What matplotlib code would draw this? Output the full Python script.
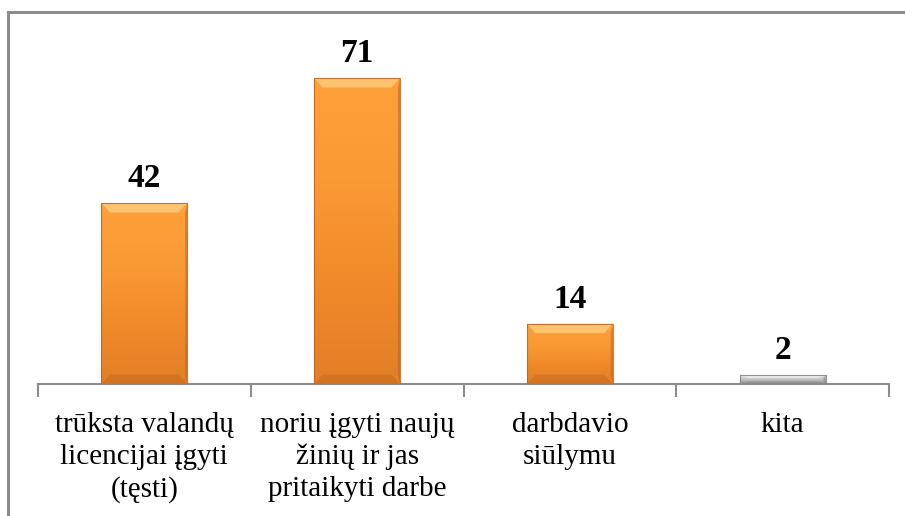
import matplotlib
matplotlib.use("Agg")
import matplotlib.pyplot as plt
import numpy as np
from matplotlib.colors import LinearSegmentedColormap
from matplotlib.patches import Polygon

categories = ["trūksta valandų\nlicencijai įgyti\n(tęsti)",
              "noriu įgyti naujų\nžinių ir jas\npritaikyti darbe",
              "darbdavio\nsiūlymu",
              "kita"]
values = [42, 71, 14, 2]
labels = ["42", "71", "14", "2"]

W, H = 905, 516
fig = plt.figure(figsize=(W / 100, H / 100), dpi=100)

# outer frame (top and left lines visible)
fig.add_artist(plt.Line2D([8 / W, 1.0], [1 - 12 / H, 1 - 12 / H], color="#8c8c8c", lw=2.2))
fig.add_artist(plt.Line2D([8 / W, 8 / W], [0, 1 - 12 / H], color="#8c8c8c", lw=2.2))

x0, x1 = 38, 889
ybase = 384
ymax = 80
pxu = 4.31
ytop = ybase - ymax * pxu
ax = fig.add_axes([x0 / W, 1 - ybase / H, (x1 - x0) / W, (ybase - ytop) / H])
ax.set_xlim(0, 4)
ax.set_ylim(0, ymax)
for s in ["top", "right", "left"]:
    ax.spines[s].set_visible(False)
ax.spines["bottom"].set_color("#8c8c8c")
ax.spines["bottom"].set_linewidth(1.5)
ax.set_yticks([])
ax.set_xticks([0, 1, 2, 3, 4])
ax.set_xticklabels([])
ax.tick_params(axis="x", length=9, width=1.5, color="#8c8c8c", direction="out")

xs = np.arange(len(values)) + 0.5
ax.set_xticks(xs, minor=True)
ax.set_xticklabels(categories, minor=True, fontsize=21, family="Liberation Serif",
                   linespacing=1.3, va="top")
ax.tick_params(axis="x", which="minor", length=0, pad=20)

face = ["#F7962E", "#F7962E", "#F7962E", "#BFBFBF"]
bars = ax.bar(xs, values, width=0.404, color=face, edgecolor="none", zorder=2)

orange = LinearSegmentedColormap.from_list("o", ["#E27E26", "#F08A2A", "#FA9A35", "#FFA03A"])
gray = LinearSegmentedColormap.from_list("g", ["#8F8F8F", "#B0B0B0", "#D0D0D0", "#E4E4E4"])
grad = np.linspace(0, 1, 256).reshape(-1, 1)
for b, v, c in zip(bars, values, face):
    bx, by = b.get_x(), b.get_y()
    bw, bh = b.get_width(), b.get_height()
    cm = gray if c == "#BFBFBF" else orange
    im = ax.imshow(grad, cmap=cm, aspect="auto", origin="lower",
                   extent=[bx, bx + bw, by, by + bh], zorder=3)
    im.set_clip_path(b)
    bev_y = min(2.2, bh * 0.3)
    bev_x = bw * 0.1
    light = "#FFD080" if c != "#BFBFBF" else "#F2F2F2"
    dark = "#B8601C" if c != "#BFBFBF" else "#7A7A7A"
    ax.add_patch(Polygon([[bx, by + bh], [bx + bw, by + bh], [bx + bw - bev_x, by + bh - bev_y],
                          [bx + bev_x, by + bh - bev_y]], closed=True, facecolor=light,
                         alpha=0.75, edgecolor="none", zorder=4))
    ax.add_patch(Polygon([[bx, by], [bx + bw, by], [bx + bw - bev_x, by + bev_y],
                          [bx + bev_x, by + bev_y]], closed=True, facecolor=dark,
                         alpha=0.35, edgecolor="none", zorder=4))
    ax.add_patch(Polygon([[bx + bw, by], [bx + bw, by + bh], [bx + bw - bev_x * 0.25, by + bh - bev_y],
                          [bx + bw - bev_x * 0.25, by + bev_y]], closed=True, facecolor=dark,
                         alpha=0.5, edgecolor="none", zorder=4))
    ax.plot([bx, bx + bw, bx + bw, bx, bx], [by, by, by + bh, by + bh, by],
            color=dark, lw=0.8, alpha=0.8, zorder=5)

for xv, v, lab in zip(xs, values, labels):
    ax.annotate(lab, (xv, v), xytext=(0, 16), textcoords="offset pixels",
                ha="center", va="baseline", fontsize=24, fontweight="bold",
                family="Liberation Serif", zorder=6, annotation_clip=False)

fig.savefig("out.png", dpi=100)
